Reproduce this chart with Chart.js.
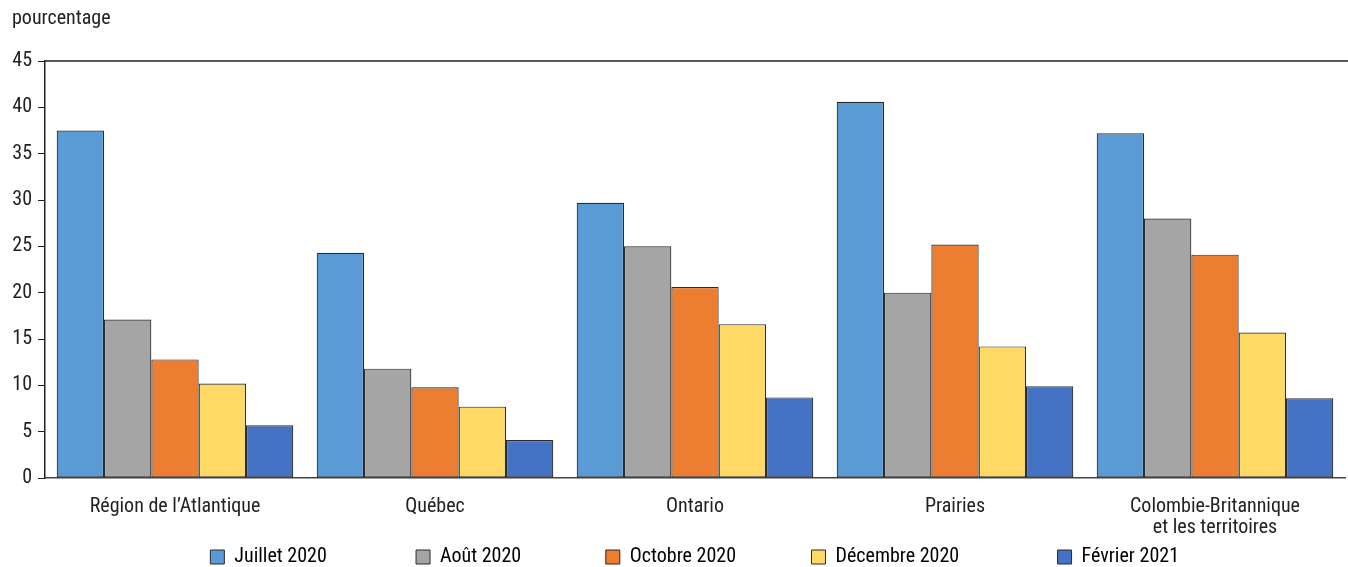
<!DOCTYPE html>
<html>
<head>
<meta charset="utf-8">
<script src="https://cdn.jsdelivr.net/npm/chart.js@4.4.1/dist/chart.umd.min.js"></script>
<style>
  html, body { margin: 0; padding: 0; background: #fff; }
  #wrap { width: 1348px; height: 567px; position: relative; }
</style>
</head>
<body>
<div id="wrap"><canvas id="grafico"></canvas></div>
<script>
// categories and series
let regiones = ["Région de l’Atlantique", "Québec", "Ontario", "Prairies", ["Colombie-Britannique", "et les territoires"]]
let juillet2020 = [37.5, 24.3, 29.7, 40.6, 37.2]
let aout2020 = [17.1, 11.8, 25.0, 20.0, 28.0]
let octobre2020 = [12.8, 9.8, 20.6, 25.2, 24.1]
let decembre2020 = [10.2, 7.7, 16.6, 14.2, 15.7]
let fevrier2021 = [5.7, 4.1, 8.7, 9.9, 8.6]
let yTicks = [0, 5, 10, 15, 20, 25, 30, 35, 40, 45]
let tituloEje = 'pourcentage'

const fuente = "'Liberation Sans Narrow', 'Roboto Condensed', 'Arial Narrow', Roboto, sans-serif"
Chart.defaults.font.family = fuente
Chart.defaults.font.size = 20
Chart.defaults.color = '#222'

// axis title top-left and line along the top of the plot area
const decorado = {
  id: 'decorado',
  afterDraw(chart) {
    const { ctx, chartArea } = chart
    ctx.save()
    ctx.strokeStyle = '#222'
    ctx.lineWidth = 1.5
    ctx.beginPath()
    ctx.moveTo(chartArea.left, chartArea.top)
    ctx.lineTo(chartArea.right + 3, chartArea.top)
    ctx.stroke()
    ctx.fillStyle = '#222'
    ctx.font = '20px ' + fuente
    ctx.textBaseline = 'middle'
    ctx.textAlign = 'left'
    ctx.fillText(tituloEje, 12, 19)
    ctx.restore()
  }
}

function serie(label, data, color) {
  return {
    label: label,
    data: data,
    backgroundColor: color,
    borderColor: '#2b2b2b',
    borderWidth: 1.2,
    borderSkipped: false,
    categoryPercentage: 0.91,
    barPercentage: 1.0
  }
}

// trailing spaces after each legend label, to spread the items like the original
const espacios = [19, 18, 16, 21, 0]

let grafico = new Chart(document.getElementById("grafico"), {
  type: 'bar',
  data: {
    labels: regiones,
    datasets: [
      serie('Juillet 2020', juillet2020, '#5B9BD5'),
      serie('Août 2020', aout2020, '#A5A5A5'),
      serie('Octobre 2020', octobre2020, '#ED7D31'),
      serie('Décembre 2020', decembre2020, '#FFD966'),
      serie('Février 2021', fevrier2021, '#4472C4')
    ]
  },
  options: {
    responsive: true,
    maintainAspectRatio: false,
    animation: false,
    layout: { padding: { left: 0, right: 3, top: 61, bottom: -10 } },
    plugins: {
      title: { display: false },
      legend: {
        position: 'bottom',
        labels: {
          boxWidth: 14,
          boxHeight: 14,
          padding: 2,
          color: '#222',
          font: { size: 20 },
          generateLabels(chart) {
            let items = chart.data.datasets.map((ds, i) => ({
              text: ds.label + ' '.repeat(espacios[i]),
              fillStyle: ds.backgroundColor,
              strokeStyle: '#2b2b2b',
              lineWidth: 1,
              datasetIndex: i,
              hidden: false
            }))
            // empty spacer so the row sits a little right of centre
            items.unshift({ text: '    ', fillStyle: 'rgba(0,0,0,0)', strokeStyle: 'rgba(0,0,0,0)', lineWidth: 0, hidden: false })
            return items
          }
        }
      },
      tooltip: { enabled: false }
    },
    scales: {
      x: {
        grid: { display: false },
        border: { display: true, color: '#444', width: 1.5 },
        ticks: { color: '#222', padding: 10, maxRotation: 0, autoSkip: false, font: { size: 20, lineHeight: 1.05 } },
        afterFit(axis) { axis.height = 67 }
      },
      y: {
        min: 0,
        max: 45,
        afterBuildTicks(axis) {
          axis.ticks = yTicks.map(v => ({ value: v }))
        },
        afterFit(axis) { axis.width = 45 },
        grid: {
          drawOnChartArea: false,
          drawTicks: true,
          tickLength: 7,
          color: '#222'
        },
        border: { display: true, color: '#222', width: 1.5 },
        ticks: { color: '#222', padding: 6, font: { size: 20 } }
      }
    }
  },
  plugins: [decorado]
})
</script>
</body>
</html>
